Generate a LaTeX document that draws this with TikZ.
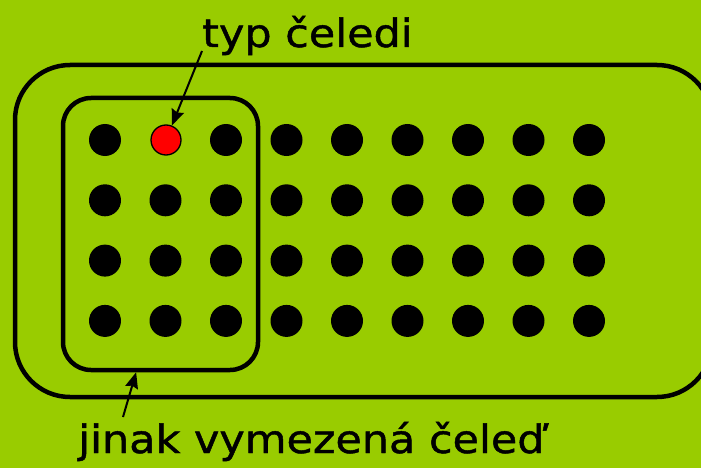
\documentclass[tikz,border=0pt]{standalone}
\usepackage{fontspec}
\setmainfont{DejaVu Sans}[FakeStretch=1.1,FakeBold=1.2]
\usetikzlibrary{arrows.meta}
\definecolor{bggreen}{HTML}{99CC00}
\begin{document}
\begin{tikzpicture}[x=1pt,y=-1pt,
  seed/.style={circle,fill=black,minimum size=32pt,inner sep=0pt},
  typeseed/.style={circle,fill=red,draw=black,line width=1.3pt,minimum size=30pt,inner sep=0pt},
  frame/.style={draw=black,line width=4.5pt},
  caption/.style={font=\fontsize{39}{44}\selectfont,inner sep=0pt,anchor=base west},
  pointer/.style={-{Stealth[length=16pt,width=13pt,inset=2pt]},line width=2pt}]
\useasboundingbox (0,0) rectangle (701,468);
\fill[bggreen] (0,0) rectangle (701,468);
% outer family outline, running off the right edge
\begin{scope}
  \clip (0,0) rectangle (701,468);
  \draw[frame,rounded corners=55pt] (15,65) rectangle (712,397);
\end{scope}
% inner, differently delimited family
\node[frame,rounded corners=28pt,minimum width=195pt,minimum height=272pt,inner sep=0pt] (inner) at (160.5,234) {};
% grid of genera
\foreach \c in {0,...,8}{
  \foreach \r in {0,...,3}{
    \ifnum\c=1 \ifnum\r=0 \else
      \node[seed] (d-\c-\r) at ({105+60.5*\c},{140+60.3*\r}) {};
    \fi\else
      \node[seed] (d-\c-\r) at ({105+60.5*\c},{140+60.3*\r}) {};
    \fi
  }
}
\node[typeseed] (type) at (166,140) {};
% labels
\node[caption] (typlabel) at (202,47) {typ čeledi};
\node[caption] (jinaklabel) at (78,453) {jinak vymezená čeleď};
% pointers
\coordinate (typstart) at (202,51);
\draw[pointer] (typstart) -- (type);
\coordinate (jinakstart) at (123,417);
\draw[pointer] (jinakstart) -- (inner.260.8);
\end{tikzpicture}
\end{document}
